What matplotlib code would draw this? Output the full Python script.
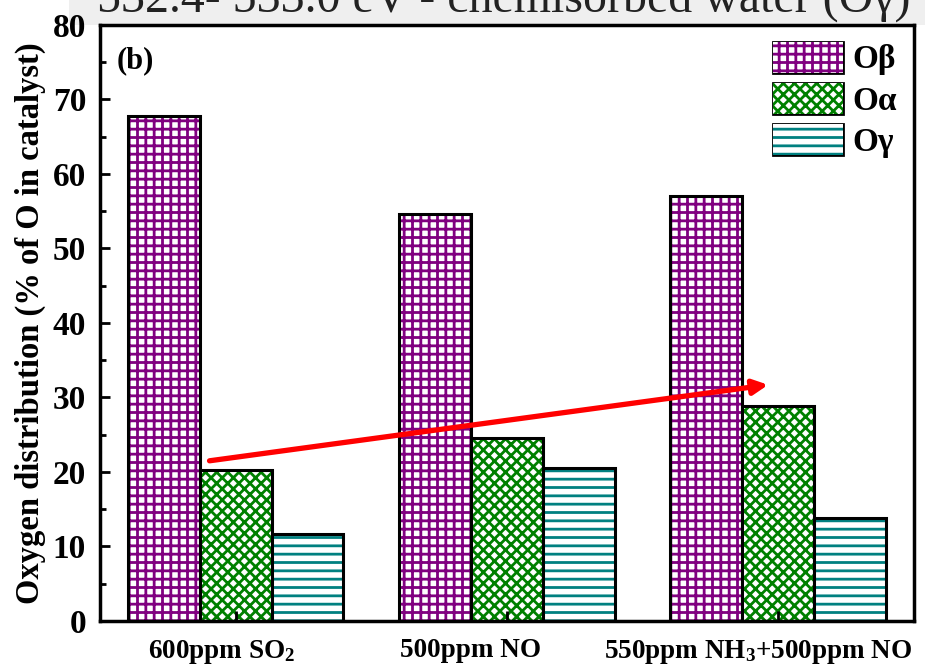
import numpy as np
import matplotlib
matplotlib.use("Agg")
import matplotlib.pyplot as plt
from matplotlib.patches import Rectangle, Patch

plt.rcParams['font.family'] = ['Liberation Serif', 'DejaVu Serif']
plt.rcParams['font.weight'] = 'bold'
plt.rcParams['axes.labelweight'] = 'bold'
plt.rcParams['mathtext.fontset'] = 'custom'
plt.rcParams['mathtext.rm'] = 'Liberation Serif:bold'
plt.rcParams['mathtext.default'] = 'rm'
plt.rcParams['hatch.linewidth'] = 2.0

categories = ['600ppm SO$_2$', '500ppm NO', '550ppm NH$_3$+500ppm NO']
series = ['O\u03b2', 'O\u03b1', 'O\u03b3']
o_beta = [67.8, 54.6, 57.0]
o_alpha = [20.3, 24.6, 28.8]
o_gamma = [11.7, 20.5, 13.8]
colors = ['#800080', '#008000', '#008080']
hatches = ['++', 'xxx', '--']

fig = plt.figure(figsize=(9.25, 6.68), dpi=100)
ax = fig.add_axes([0.108, 0.0704, 0.880, 0.8922])

# grey strip with cut-off caption at the very top (drawn behind the axes)
fig.patches.append(Rectangle((0.075, 0.9626), 0.925, 0.04, transform=fig.transFigure,
                             facecolor='#efefef', edgecolor='none', zorder=-1))
fig.text(0.545, 1 - 12 / 668, '532.4- 533.0 eV - chemisorbed water (O\u03b3)',
         ha='center', va='baseline', fontsize=34.5, fontweight='normal', color='#222222',
         zorder=-1)

x = np.arange(len(categories))
w = 0.265
for i, vals in enumerate([o_beta, o_alpha, o_gamma]):
    pos = x + (i - 1) * w
    ax.bar(pos, vals, w, color='white', edgecolor=colors[i], hatch=hatches[i], linewidth=0)
    ax.bar(pos, vals, w, color='none', edgecolor='black', linewidth=2.2)

handles = [Patch(facecolor='white', edgecolor=colors[i], hatch=hatches[i]) for i in range(3)]
leg = ax.legend(handles, series, loc='upper right', frameon=False, fontsize=24,
                handlelength=2.1, handleheight=1.05, labelspacing=0.22,
                handletextpad=0.3, borderaxespad=0.25, borderpad=0.25)
for p in leg.get_patches():
    p.set_linewidth(0)
# black frame around legend boxes
fig.canvas.draw()
for p in leg.get_patches():
    bb = p.get_window_extent()
    ax.add_patch(Rectangle((bb.x0, bb.y0), bb.width, bb.height, transform=None,
                           facecolor='none', edgecolor='black', linewidth=2.0, zorder=5))

ax.annotate('', xy=(1.963, 31.7), xytext=(-0.096, 21.5),
            arrowprops=dict(arrowstyle='-|>', color='red', lw=3.8, mutation_scale=22,
                            shrinkA=0, shrinkB=0), zorder=6)

ax.text(0.021, 0.965, '(b)', transform=ax.transAxes, fontsize=22, va='top', ha='left')

ax.set_xlim(-0.5, 2.5)
ax.set_ylim(0, 80)
ax.set_xticks(x)
ax.set_xticklabels([])
# category labels sit a bit left of their ticks in the original
for xi, lab, dx in zip(x, categories, [-14, -36, -20]):
    ax.annotate(lab, xy=(xi, 0), xycoords=('data', 'axes fraction'),
                xytext=(dx * 0.72, -12), textcoords='offset points',
                ha='center', va='top', fontsize=19.5, annotation_clip=False)
ax.set_yticks(np.arange(0, 81, 10))
ax.set_yticks(np.arange(5, 80, 10), minor=True)
ax.tick_params(axis='y', which='major', direction='in', length=7, width=2, labelsize=24, pad=10)
ax.tick_params(axis='y', which='minor', direction='in', length=4, width=2)
ax.tick_params(axis='x', direction='in', length=7, width=2)
ax.set_ylabel('Oxygen distribution (% of O in catalyst)', fontsize=23.5, labelpad=5)
for s in ax.spines.values():
    s.set_linewidth(2.5)

fig.savefig('out.png', dpi=100)
